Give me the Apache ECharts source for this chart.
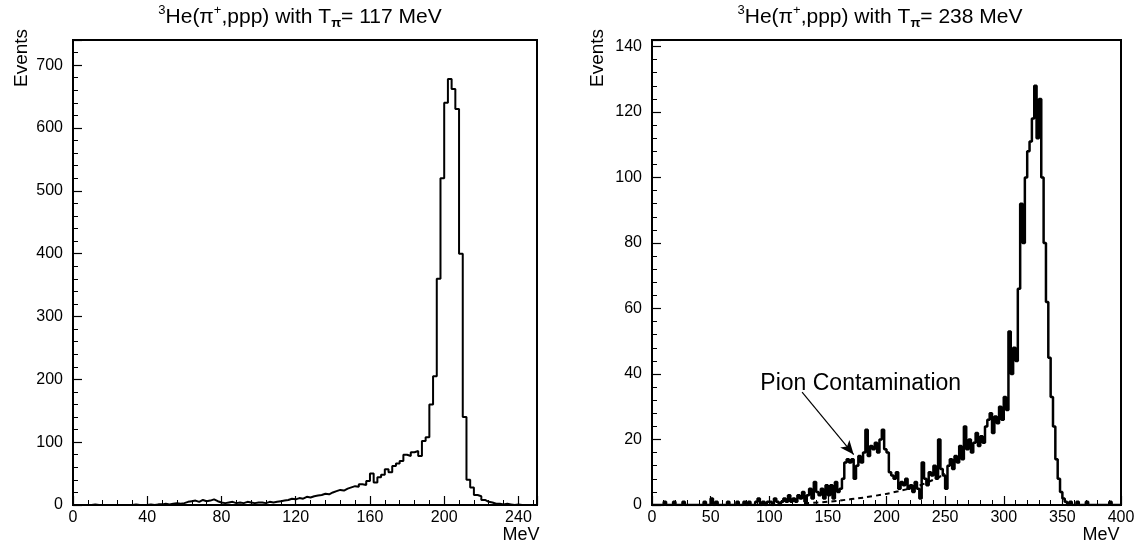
<!DOCTYPE html>
<html><head><meta charset="utf-8">
<script src="https://cdn.jsdelivr.net/npm/echarts@6/dist/echarts.min.js"></script>
<style>html,body{margin:0;padding:0;background:#fff}#c{width:1138px;height:546px}</style>
</head><body><div id="c"></div>
<script>
// ---- data (2 MeV bins starting at 0) ----
const binWidth = 2;
const leftCounts = [
  0,0,0,0,0,1,0,0,0,0,
  0,0,0,0,0,0,1,0,0,0,
  1,0,1,1,2,1,2,3,2,3,
  5,6,7,5,8,6,7,9,6,4,
  3,4,5,3,4,3,5,4,3,4,
  4,3,5,4,5,6,7,8,10,9,
  11,10,13,12,14,15,16,18,17,20,
  22,24,23,26,28,30,29,33,32,38,
  50,36,44,48,57,52,62,66,70,80,
  78,84,86,78,102,108,160,205,360,520,
  640,678,662,630,400,140,40,28,16,14,
  8,5,4,2,2,1,2,1,0,1,0,0,0,0,0
];
const rightCounts = [
  0,0,0,0,0,1,0,0,0,1,
  0,0,0,1,0,0,0,0,0,0,
  0,0,1,0,0,2,0,1,0,0,
  0,0,1,0,0,0,1,0,0,1,
  0,1,0,0,1,2,0,1,0,1,
  1,0,2,1,0,1,2,1,3,1,
  2,1,3,2,4,1,3,5,2,7,
  4,3,5,2,6,3,6,2,7,4,
  5,8,13,14,13,14,8,12,15,13,
  16,23,15,18,17,19,16,20,23,17,
  16,10,9,8,10,5,7,6,8,5,
  6,4,7,5,2,13,8,6,10,9,
  12,8,20,11,9,5,12,14,11,15,
  13,18,14,24,17,20,16,19,22,18,
  21,19,24,26,28,22,27,25,30,26,
  33,29,53,40,48,44,66,92,80,100,
  108,111,118,128,112,124,100,80,62,45,
  33,24,14,8,4,2,1,0,1,0,
  0,1,0,0,0,1,0,0,0,0,
  0,0,0,0,0,1,0,0,0,0
];
const bgEnergy = [130,150,170,190,210,230,250];
const bgCounts = [0.5,1.0,1.8,2.8,4.2,6.2,9.5];
const leftTitle = '{s|3}He(π{s|+},ppp) with T{b|π}= 117 MeV';
const rightTitle = '{s|3}He(π{s|+},ppp) with T{b|π}= 238 MeV';
const yName = 'Events';
const xName = 'MeV';
const noteText = 'Pion Contamination';
const arrowFrom = [128, 34.5];
const arrowTo = [172, 15.4];
const noteAt = [178, 37];

function steps(counts) {
  const d = counts.map((c, i) => [i * binWidth, c]);
  d.push([counts.length * binWidth, counts[counts.length - 1]]);
  return d;
}
const FONT = 'Liberation Sans';
function xAx(gi, max, interval, showMax) {
  return {
    type: 'value', gridIndex: gi, min: 0, max: max, interval: interval,
    axisLine: {show: true, onZero: false, lineStyle: {color: '#000', width: 2}},
    axisTick: {show: true, inside: true, length: 9, lineStyle: {color: '#000', width: 1.2}},
    minorTick: {show: true, splitNumber: 5, length: 5, lineStyle: {color: '#000', width: 1}},
    splitLine: {show: false},
    axisLabel: {color: '#000', fontSize: 16, fontFamily: FONT, margin: 5, showMaxLabel: showMax, showMinLabel: true, hideOverlap: false}
  };
}
function yAx(gi, max, interval) {
  return {
    type: 'value', gridIndex: gi, min: 0, max: max, interval: interval,
    axisLine: {show: true, onZero: false, lineStyle: {color: '#000', width: 2}},
    axisTick: {show: true, inside: true, length: 9, lineStyle: {color: '#000', width: 1.2}},
    minorTick: {show: true, splitNumber: 5, length: 5, lineStyle: {color: '#000', width: 1}},
    splitLine: {show: false},
    axisLabel: {color: '#000', fontSize: 16, fontFamily: FONT, margin: 10, showMaxLabel: false, hideOverlap: false}
  };
}
const titleRich = {
  s: {fontSize: 13, lineHeight: 13, verticalAlign: 'top', fontFamily: FONT, fill: '#000'},
  b: {fontSize: 13, lineHeight: 13, verticalAlign: 'bottom', fontFamily: FONT, fill: '#000', fontWeight: 'bold'}
};
function txt(x, y, text, opts) {
  return Object.assign({type: 'text', x: x, y: y, silent: true,
    style: Object.assign({text: text, fontSize: 16, fontFamily: FONT, fill: '#000', align: 'center', verticalAlign: 'middle'}, opts || {})});
}
const option = {
  animation: false,
  backgroundColor: '#fff',
  grid: [
    {left: 73, top: 40, width: 464, height: 465, show: true, borderColor: '#000', borderWidth: 2, backgroundColor: 'transparent', outerBoundsMode: 'none'},
    {left: 652, top: 40, width: 469, height: 465, show: true, borderColor: '#000', borderWidth: 2, backgroundColor: 'transparent', outerBoundsMode: 'none'}
  ],
  xAxis: [xAx(0, 250, 40, false), xAx(1, 400, 50, true)],
  yAxis: [yAx(0, 740, 100), yAx(1, 142, 20)],
  series: [
    {type: 'line', xAxisIndex: 0, yAxisIndex: 0, step: 'end', showSymbol: false, data: steps(leftCounts),
      lineStyle: {color: '#000', width: 2}},
    {type: 'line', xAxisIndex: 1, yAxisIndex: 1, step: 'end', showSymbol: false, data: steps(rightCounts),
      lineStyle: {color: '#000', width: 2.5},
      markLine: {silent: true, symbol: ['none', 'arrow'], symbolSize: [9, 14], label: {show: false},
        lineStyle: {color: '#000', width: 1.2, type: 'solid'},
        data: [[{coord: arrowFrom}, {coord: arrowTo}]]},
      markPoint: {silent: true, symbol: 'circle', symbolSize: 0,
        label: {show: true, position: 'inside', color: '#000', fontSize: 23, fontFamily: FONT, formatter: noteText},
        data: [{coord: noteAt}]}
    },
    {type: 'line', xAxisIndex: 1, yAxisIndex: 1, smooth: true, showSymbol: false,
      data: bgEnergy.map((e, i) => [e, bgCounts[i]]),
      lineStyle: {color: '#000', width: 2, type: [5, 4]}}
  ],
  graphic: [
    txt(300, 17, leftTitle, {fontSize: 21, lineHeight: 26, rich: titleRich}),
    txt(880, 17, rightTitle, {fontSize: 21, lineHeight: 26, rich: titleRich}),
    txt(22, 58, yName, {fontSize: 19}),
    txt(598, 58, yName, {fontSize: 19}),
    txt(521, 535, xName, {fontSize: 18}),
    txt(1101, 535, xName, {fontSize: 18})
  ]
};
option.graphic[2].rotation = Math.PI / 2;
option.graphic[3].rotation = Math.PI / 2;
const chart = echarts.init(document.getElementById('c'), null, {renderer: 'canvas'});
chart.setOption(option);
</script></body></html>
